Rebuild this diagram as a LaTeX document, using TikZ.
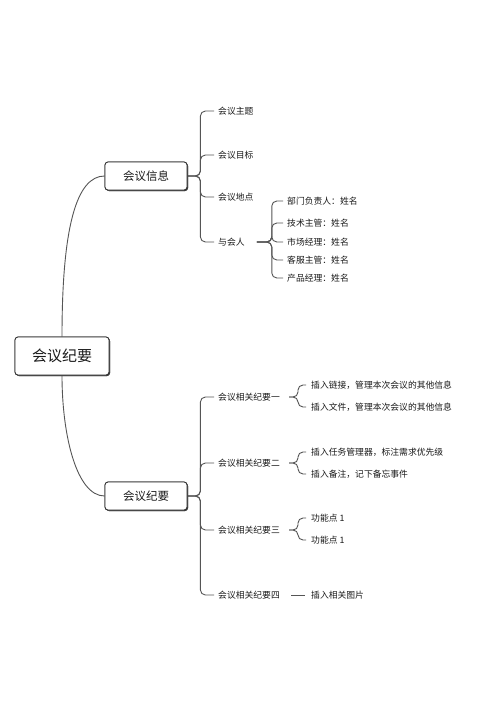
\documentclass[tikz,border=0pt]{standalone}
\usepackage{fontspec}
\setmainfont{Noto Sans CJK SC}
\usetikzlibrary{shadows}
\definecolor{linec}{HTML}{555555}
\definecolor{boxc}{HTML}{2A2A2A}
\definecolor{txtc}{HTML}{1A1A1A}
\begin{document}
\begin{tikzpicture}[x=1pt,y=-1pt,
  conn/.style={draw=linec,line width=0.9pt,rounded corners=5pt},
  boxbase/.style={draw=boxc,line width=0.8pt,rounded corners=3pt,fill=white,text=txtc,inner sep=0pt,
    drop shadow={shadow xshift=1pt,shadow yshift=-1pt,fill=black!75,opacity=1}},
  rootbox/.style={boxbase,font=\fontsize{15}{17}\selectfont,minimum width=94pt,minimum height=38pt},
  topic/.style={boxbase,font=\fontsize{11.5}{13}\selectfont,minimum width=82pt,minimum height=28pt},
  leaf/.style={anchor=west,inner sep=0pt,text=txtc,font=\fontsize{8.8}{10}\selectfont}]
\useasboundingbox (0,0) rectangle (500,707);
\fill[white] (0,0) rectangle (500,707);
% nodes
\node[rootbox] (root) at (62,356) {会议纪要};
\node[topic] (b1) at (146,176) {会议信息};
\node[topic] (b2) at (146,496) {会议纪要};
\node[leaf] (t1) at (218,111) {会议主题};
\node[leaf] (t2) at (218,155) {会议目标};
\node[leaf] (t3) at (218,197) {会议地点};
\node[leaf] (t4) at (218,242) {与会人};
\node[leaf] (p1) at (287,201) {部门负责人：姓名};
\node[leaf] (p2) at (287,223) {技术主管：姓名};
\node[leaf] (p3) at (287,242) {市场经理：姓名};
\node[leaf] (p4) at (287,260) {客服主管：姓名};
\node[leaf] (p5) at (287,278) {产品经理：姓名};
\node[leaf] (m1) at (218,397) {会议相关纪要一};
\node[leaf] (m2) at (218,463) {会议相关纪要二};
\node[leaf] (m3) at (218,530) {会议相关纪要三};
\node[leaf] (m4) at (218,595) {会议相关纪要四};
\node[leaf] (s11) at (311,385) {插入链接，管理本次会议的其他信息};
\node[leaf] (s12) at (311,407) {插入文件，管理本次会议的其他信息};
\node[leaf] (s21) at (311,452) {插入任务管理器，标注需求优先级};
\node[leaf] (s22) at (311,474) {插入备注，记下备忘事件};
\node[leaf] (s31) at (311,518) {功能点 1};
\node[leaf] (s32) at (311,540) {功能点 1};
\node[leaf] (s41) at (311,595) {插入相关图片};
% root connectors
\draw[conn] (root.north) .. controls +(0,-110) and +(-28,0) .. (b1.west);
\draw[conn] (root.south) .. controls +(0,60) and +(-28,0) .. (b2.west);
% topic brackets
\foreach \c in {t1,t2,t3,t4}
  \draw[conn] (b1.east) -- ++(13,0) |- ([xshift=-4pt]\c.west);
\foreach \c in {m1,m2,m3,m4}
  \draw[conn] (b2.east) -- ++(13,0) |- ([xshift=-4pt]\c.west);
% people brace
\foreach \c in {p1,p2,p3,p4,p5}
  \draw[conn] ([xshift=12pt]t4.east) -- ++(15,0) |- ([xshift=-4pt]\c.west);
% sub braces
\foreach \c in {s11,s12}
  \draw[conn] ([xshift=9pt]m1.east) -- ++(9,0) |- ([xshift=-5pt]\c.west);
\foreach \c in {s21,s22}
  \draw[conn] ([xshift=9pt]m2.east) -- ++(9,0) |- ([xshift=-5pt]\c.west);
\foreach \c in {s31,s32}
  \draw[conn] ([xshift=9pt]m3.east) -- ++(9,0) |- ([xshift=-5pt]\c.west);
\draw[conn] ([xshift=11pt]m4.east) -- ([xshift=-6pt]s41.west);
% redraw boxes on top of connector ends
\node[rootbox] at (root) {会议纪要};
\node[topic] at (b1) {会议信息};
\node[topic] at (b2) {会议纪要};
\end{tikzpicture}
\end{document}
